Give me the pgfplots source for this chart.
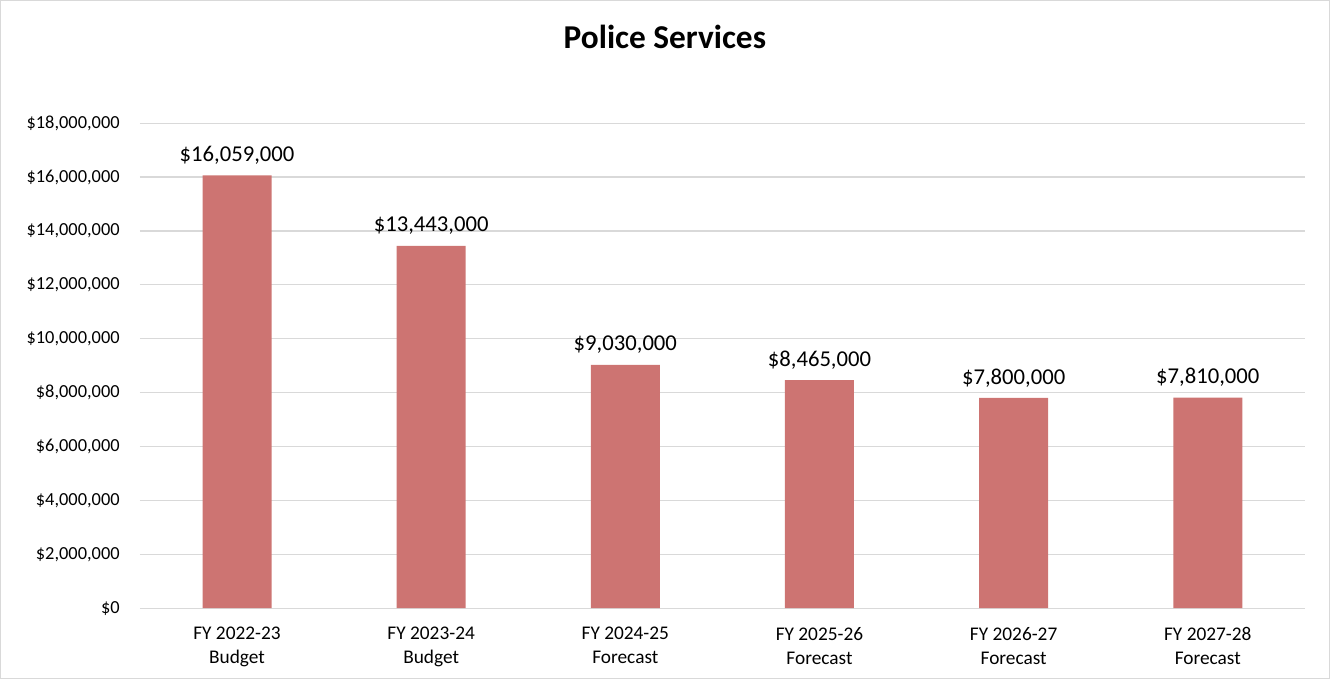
\documentclass[border=0pt]{standalone}
\usepackage{pgfplots}
\pgfplotsset{compat=1.18}
\usepackage{fontspec}
\setmainfont{Carlito}
\definecolor{barred}{RGB}{205,116,114}
\definecolor{gridgray}{RGB}{217,217,217}
\begin{document}
\begin{tikzpicture}
\begin{axis}[
  scale only axis,
  width=873.75pt, height=363.75pt,
  xmin=-0.5, xmax=5.5,
  ymin=0, ymax=18000000,
  axis line style={draw=none},
  tick style={draw=none},
  ymajorgrids, grid style={gridgray, line width=0.9pt},
  ytick={0,2000000,4000000,6000000,8000000,10000000,12000000,14000000,16000000,18000000},
  yticklabels={\$0,{\$2,000,000},{\$4,000,000},{\$6,000,000},{\$8,000,000},{\$10,000,000},{\$12,000,000},{\$14,000,000},{\$16,000,000},{\$18,000,000}},
  scaled y ticks=false,
  yticklabel style={font=\fontsize{13.8}{16}\selectfont, inner sep=0pt, xshift=-15pt},
  xtick={0,1,2,3,4,5},
  xticklabels={{FY 2022-23\\Budget},{FY 2023-24\\Budget},{FY 2024-25\\Forecast},{FY 2025-26\\Forecast},{FY 2026-27\\Forecast},{FY 2027-28\\Forecast}},
  xticklabel style={font=\fontsize{14.5}{18}\selectfont, align=center, inner sep=0pt, yshift=-10pt},
  ybar, bar width=51.75pt,
  point meta=explicit,
  nodes near coords={\$\pgfmathprintnumber[assume math mode=true,fixed,precision=0,1000 sep={,}]{\pgfplotspointmeta},000},
  nodes near coords style={font=\fontsize{17}{20}\selectfont, anchor=center, yshift=15pt, text=black},
]
\addplot[fill=barred, draw=none] table[x=x, y=y, meta=m] {
x y m
0 16059000 16059
1 13443000 13443
2 9030000 9030
3 8465000 8465
4 7800000 7800
5 7810000 7810
};
\end{axis}
\draw[gridgray, line width=0.9pt] ([xshift=-104.5pt,yshift=-52.9pt]current axis.south west) rectangle ([xshift=18.4pt,yshift=91.9pt]current axis.north east);
\node[font=\bfseries\fontsize{25}{30}\selectfont] at ([xshift=393.75pt,yshift=64.5pt]current axis.north west) {Police Services};
\end{tikzpicture}
\end{document}
